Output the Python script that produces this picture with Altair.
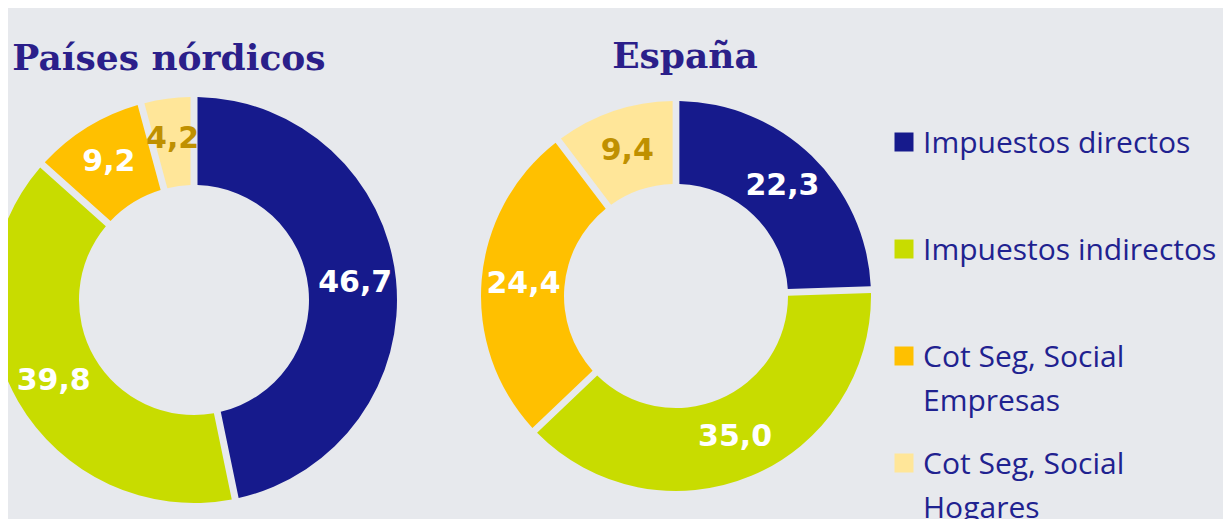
import altair as alt
import pandas as pd

categories = ["Impuestos directos", "Impuestos indirectos",
              "Cot Seg, Social Empresas", "Cot Seg, Social Hogares"]
legend_labels = ["Impuestos directos", "Impuestos indirectos",
                 "Cot Seg, Social\nEmpresas", "Cot Seg, Social\nHogares"]
colors = ["#161a8c", "#c8dc00", "#ffc000", "#ffe699"]
nordic_values = [46.7, 39.8, 9.2, 4.2]
spain_values = [22.3, 35.0, 24.4, 9.4]
titles = ["Países nórdicos", "España"]

rows = []
for region, vals in (("nordic", nordic_values), ("spain", spain_values)):
    for i, (c, v) in enumerate(zip(categories, vals)):
        rows.append({"region": region, "cat": c, "idx": i, "value": v})
df = pd.DataFrame(rows)
leg = pd.DataFrame({"cat": categories, "label": legend_labels})

color_scale = alt.Scale(domain=categories, range=colors)
BG = "#e7e9ed"
TITLE_COLOR = "#2b1f8a"
LEG_COLOR = "#1f2290"


def donut(region, cx, cy, r_in, r_out, r_lab):
    base = alt.Chart(df).transform_filter(
        alt.datum.region == region
    ).transform_calculate(
        lab="replace(format(datum.value, '.1f'), '.', ',')"
    )
    theta = alt.Theta("value:Q", stack="normalize")
    order = alt.Order("idx:Q", sort="ascending")
    arcs = base.mark_arc(
        x=cx, y=cy, innerRadius=r_in, outerRadius=r_out, padAngle=0.03, clip=True
    ).encode(
        theta=theta,
        color=alt.Color("cat:N", scale=color_scale, legend=None),
        order=order,
    )
    labels = base.mark_text(
        x=cx, y=cy, radius=r_lab, font="DejaVu Sans", fontWeight="bold",
        fontSize=30, align="center", baseline="middle"
    ).encode(
        theta=theta,
        order=order,
        text="lab:N",
        color=alt.condition(alt.datum.idx == 3, alt.value("#bf9000"), alt.value("#ffffff")),
    )
    return [arcs, labels]


def title(text, x, y):
    return alt.Chart(pd.DataFrame({"t": [text]})).mark_text(
        x=x, y=y, font="DejaVu Serif", fontWeight="bold", fontSize=36,
        color=TITLE_COLOR, align="center", baseline="alphabetic"
    ).encode(text="t:N")


y_enc = alt.Y("cat:N", sort=categories,
              scale=alt.Scale(type="point", domain=categories, range=[134, 455], padding=0),
              axis=None)

leg_sq = alt.Chart(leg).mark_square(size=361, opacity=1, x=896).encode(
    y=y_enc,
    color=alt.Color("cat:N", scale=color_scale, legend=None),
)
leg_txt = alt.Chart(leg).mark_text(
    x=915, align="left", baseline="alphabetic", dy=11, fontSize=30,
    font="Open Sans", color=LEG_COLOR, lineBreak="\n", lineHeight=44
).encode(y=y_enc, text="label:N")

layers = (donut("nordic", 186, 292, 115, 203, 162)
          + donut("spain", 668, 288, 112, 195, 153)
          + [title(titles[0], 161, 62), title(titles[1], 677, 60), leg_sq, leg_txt])

chart = alt.layer(*layers).properties(
    width=1215, height=511, autosize="none", padding=0, background=BG
).configure_view(strokeWidth=0)

chart.save("out.html", embed_options={"renderer": "svg", "actions": False})
